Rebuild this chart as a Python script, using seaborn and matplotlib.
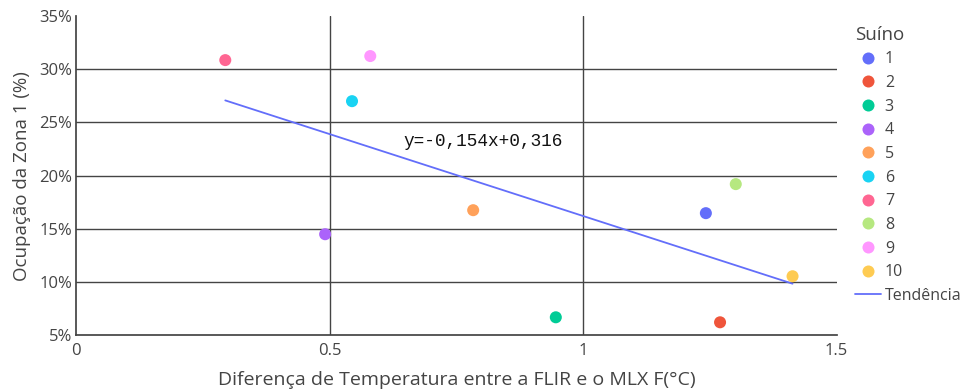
import numpy as np
import pandas as pd
import seaborn as sns
import matplotlib.pyplot as plt
from matplotlib.ticker import FuncFormatter

# data
suino = ['1', '2', '3', '4', '5', '6', '7', '8', '9', '10']
dif_temp = [1.242, 1.270, 0.946, 0.491, 0.783, 0.544, 0.294, 1.301, 0.580, 1.413]
ocup_z1 = [0.1647, 0.0621, 0.0668, 0.1449, 0.1675, 0.2700, 0.3086, 0.1920, 0.3124, 0.1054]
slope, intercept = -0.154, 0.316
cores = ['#636efa', '#EF553B', '#00cc96', '#ab63fa', '#FFA15A',
         '#19d3f3', '#FF6692', '#B6E880', '#FF97FF', '#FECB52']

df = pd.DataFrame({'Suíno': suino, 'x': dif_temp, 'y': ocup_z1})

sns.set_theme(style='white')
plt.rcParams['font.family'] = ['Open Sans', 'DejaVu Sans']

fig, ax = plt.subplots(figsize=(9.65, 3.92), dpi=100)
fig.subplots_adjust(left=0.079, right=0.867, top=0.959, bottom=0.145)

# grid
for v in [0.10, 0.15, 0.20, 0.25, 0.30]:
    ax.axhline(v, color='#444444', lw=1, zorder=0)
for v in [0.5, 1.0]:
    ax.axvline(v, color='#444444', lw=1, zorder=0)

sns.scatterplot(data=df, x='x', y='y', hue='Suíno', palette=cores,
                s=75, linewidth=0, ax=ax, zorder=3)

# trend line
xs = np.array([min(dif_temp), max(dif_temp)])
ax.plot(xs, slope * xs + intercept, color='#636efa', lw=1.3, label='Tendência', zorder=2)
ax.text(0.645, 0.2324, 'y=-0,154x+0,316', family='Liberation Mono', fontsize=12.8,
        va='center', ha='left', color='#111111')

ax.set_xlim(0, 1.5)
ax.set_ylim(0.05, 0.35)
ax.set_xticks([0, 0.5, 1, 1.5])
ax.set_xticklabels(['0', '0.5', '1', '1.5'])
ax.set_yticks(np.arange(0.05, 0.351, 0.05))
ax.yaxis.set_major_formatter(FuncFormatter(lambda v, p: f'{round(v * 100)}%'))
ax.tick_params(labelsize=12, colors='#444444', length=0)
ax.tick_params(axis='x', pad=6)
ax.tick_params(axis='y', pad=3)
for lab in ax.get_xticklabels() + ax.get_yticklabels():
    lab.set_color('#444444')

sns.despine(ax=ax)
ax.spines['left'].set_color('#444444')
ax.spines['bottom'].set_color('#444444')

ax.set_xlabel('Diferença de Temperatura entre a FLIR e o MLX F(°C)', fontsize=14, color='#444444', labelpad=8)
ax.set_ylabel('Ocupação da Zona 1 (%)', fontsize=13.5, color='#444444', labelpad=6)

handles, labels = ax.get_legend_handles_labels()
leg = ax.legend(handles, labels, title='Suíno', loc='upper left', bbox_to_anchor=(1.016, 0.99),
                frameon=False, fontsize=11.5, title_fontsize=13.5, handlelength=1.6,
                handletextpad=0.25, labelspacing=0.48, borderaxespad=0, alignment='left')
for t in leg.get_texts():
    t.set_color('#444444')
leg.get_title().set_color('#444444')

fig.savefig('out.png', dpi=100)
